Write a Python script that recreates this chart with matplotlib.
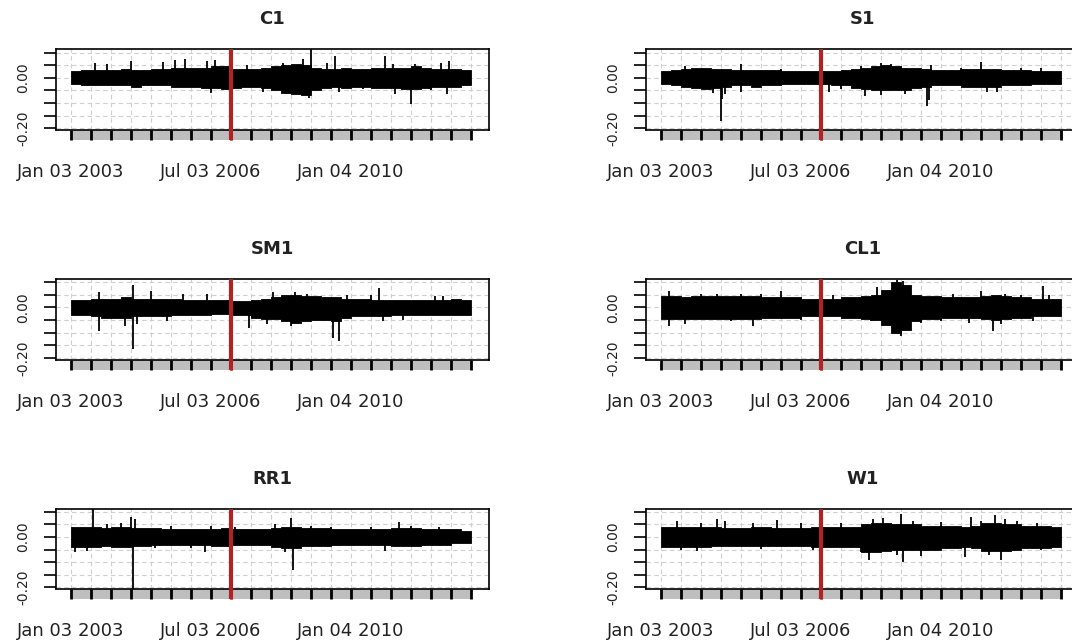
import numpy as np
import matplotlib.pyplot as plt
from matplotlib.transforms import blended_transform_factory

# quarter start dates (fractional years), 2003Q1 .. 2012Q4
quarters = np.arange(2003.0, 2013.0, 0.25)

titles = ["C1", "S1", "SM1", "CL1", "RR1", "W1"]

# bulk band of daily returns per quarter, in percent
c1_hi = [2.5, 3, 3, 3, 3, 3.5, 3, 3, 3.5, 3.5, 4, 4, 4, 4, 4.5, 4.5, 3.5, 3.5, 3.5, 4,
         4.5, 5, 5.5, 5, 4, 3.5, 3.5, 4, 3.5, 3.5, 4, 4, 4, 4, 4.5, 4, 3.5, 3.5, 3.5, 3]
c1_lo = [-2.5, -3, -3, -3, -3, -3, -3.5, -3, -3, -3, -3.5, -3.5, -3.5, -4, -4, -4.5, -4, -3.5, -3.5, -4,
         -5, -6, -6.5, -7, -5, -4, -3.5, -4, -3.5, -3.5, -4, -4, -4, -4.5, -4.5, -4, -3.5, -3.5, -3.5, -3]
c1_spk = [(2003.6, 6), (2003.9, 5.5), (2004.5, 6.5), (2005.3, 6.3), (2005.6, 7), (2005.85, 7.5),
          (2006.4, 6.5), (2006.6, 7), (2006.5, -6), (2007.4, 5), (2007.8, -5.5), (2008.3, 6),
          (2008.8, 7.5), (2009.0, 11.5), (2008.95, -8), (2009.4, 6), (2009.6, 8.5), (2009.7, -5.5),
          (2010.3, -4.5), (2010.85, 8.5), (2011.05, 5.5), (2011.1, -6.5), (2011.5, -10.3),
          (2011.6, 5.5), (2012.0, -5), (2012.25, 6), (2012.45, 6.5), (2012.4, -6.5)]

s1_hi = [2.5, 3, 3.5, 4, 4, 3.5, 3.5, 3, 3, 3, 3, 3, 2.5, 2.5, 2.5, 2.5, 2.5, 2.5, 3, 3.5,
         4, 4.5, 5, 4.5, 4, 4, 3.5, 3, 3, 3, 3.5, 3.5, 3.5, 3.5, 3, 3, 3, 2.5, 2.5, 2.5]
s1_lo = [-2.5, -3, -3.5, -4, -4.5, -4, -3.5, -3, -3, -3.5, -3, -3, -2.5, -2.5, -2.5, -2.5, -2.5, -3, -3, -4,
         -4.5, -5, -5, -5, -5, -4, -3.5, -3, -3, -3, -3.5, -3.5, -3.5, -3.5, -3, -3, -3, -2.5, -2.5, -2.5]
s1_spk = [(2003.6, 4.6), (2004.3, -6), (2004.5, -17.2), (2004.52, -8.6), (2004.6, -6.5), (2005.0, 5.5),
          (2005.0, -5.5), (2006.0, 3.5), (2007.2, -5.5), (2007.5, -4.5), (2008.0, 4.5), (2008.1, -7.3),
          (2008.5, -7), (2008.5, 5.8), (2008.75, 5.3), (2009.1, -6.5), (2009.65, -11.2), (2009.7, -9),
          (2009.75, 5), (2010.5, 4), (2011.0, 6.2), (2011.15, -5.5), (2011.4, -5.5), (2012.0, 4),
          (2012.5, 3.8)]

sm1_hi = [3, 3, 3.5, 3.5, 3.5, 4, 3.5, 3.5, 3.5, 3.5, 3.5, 3, 3, 3, 3, 3, 2.5, 2.5, 3, 3.5,
          4, 5, 5, 4.5, 4.5, 4, 4, 3.5, 3.5, 3.5, 3, 3, 3, 3, 3, 3, 3, 3, 3.5, 3]
sm1_lo = [-3, -3, -3.5, -4, -4, -4, -3.5, -3.5, -3.5, -3.5, -3, -3, -3, -3, -2.5, -2.5, -3, -3, -4, -4.5,
          -4.5, -5.5, -6, -5.5, -5, -5, -5.5, -4, -3.5, -3.5, -3.5, -3.5, -3, -3, -3, -3, -3, -3, -3, -3]
sm1_spk = [(2003.7, -9.3), (2003.7, 6.2), (2004.35, -7.3), (2004.55, 9), (2004.55, -16.5),
           (2004.65, -6.5), (2005.0, 6.5), (2005.4, -5.3), (2005.8, 5.5), (2006.4, 5.3), (2007.0, 4.5),
           (2007.45, -8), (2007.9, -6.5), (2008.05, 6), (2008.5, -7.3), (2008.6, 6.2), (2008.9, 5.5),
           (2009.55, -12), (2009.7, -13.2), (2009.9, 5), (2010.5, 5), (2010.7, 7.9), (2010.8, -5.3),
           (2011.3, -4.8), (2012.1, 4.5), (2012.3, 4.5)]

cl1_hi = [4.5, 4.5, 4, 4.5, 4.5, 4.5, 4.5, 4.5, 4.5, 4.5, 4, 4, 4, 4, 3.5, 3.5, 3.5, 3.5, 4, 4,
          4.5, 5, 7, 10, 9, 5, 4.5, 4.5, 4, 4, 4, 4, 4.5, 5, 4.5, 4, 4, 3.5, 3.5, 3.5]
cl1_lo = [-4.5, -4.5, -4.5, -4.5, -4.5, -4.5, -4.5, -4.5, -4.5, -4.5, -4, -4, -4, -4, -3.5, -3.5, -3.5, -3.5, -4, -4,
          -4.5, -5, -7, -10, -9, -5.5, -4.5, -4.5, -4, -4, -4, -4, -4.5, -5, -4.5, -4, -4, -3.5, -3.5, -3.5]
cl1_spk = [(2003.2, 6.6), (2003.2, -7.3), (2003.6, -6.6), (2004.0, 5.3), (2004.4, 5.5), (2004.75, -5.5),
           (2005.0, 5.3), (2005.3, -7.3), (2005.5, 5.5), (2006.0, 6.5), (2006.5, -5), (2007.3, 5),
           (2008.25, -5.5), (2008.4, 8.2), (2008.9, 11), (2009.0, -11.2), (2009.05, 10.5), (2009.5, -6),
           (2010.0, -5.5), (2010.3, 5.5), (2010.7, -6), (2011.0, 6.5), (2011.3, -9.3), (2011.5, -6.6),
           (2011.6, 5.5), (2012.0, 5), (2012.3, -5.5), (2012.55, 8.6), (2012.7, 5)]

rr1_hi = [4, 4, 4, 3.5, 4, 4, 3.5, 3.5, 3.5, 3, 3, 3, 3, 3, 3, 3.5, 3, 3, 3, 3,
          3.5, 4, 4, 3.5, 3.5, 3.5, 3, 3, 3, 3, 3, 3, 3.5, 3.5, 3.5, 3, 3, 3, 3, 2.5]
rr1_lo = [-4, -4, -4, -3.5, -4, -4, -3.5, -3.5, -3, -3, -3, -3, -3, -3, -3.5, -3.5, -3, -3, -3, -3,
          -4, -4.5, -4.5, -3.5, -3.5, -3.5, -3, -3, -3, -3, -3, -3, -3.5, -3.5, -3.5, -3, -3, -3, -2.5, -2.5]
rr1_spk = [(2003.1, -6), (2003.4, -5.5), (2003.55, 12), (2003.9, 5), (2004.25, 5.5), (2004.5, 8),
           (2004.55, -21), (2004.6, 7), (2005.1, -4.5), (2005.5, 4.5), (2006.0, -4.5), (2006.35, -6),
           (2006.5, 4.5), (2007.1, 4), (2008.1, 5), (2008.35, -6), (2008.5, 7.5), (2008.55, -13),
           (2009.0, 4.5), (2009.5, 4), (2010.5, 4), (2010.85, -5.5), (2011.2, 5.8), (2011.5, 4.5),
           (2012.2, 4)]

w1_hi = [4, 4, 4, 4, 4, 4, 3.5, 3.5, 3.5, 4, 4, 3.5, 3.5, 3.5, 3.5, 4, 4, 4, 4, 4,
         5, 5.5, 5.5, 5, 5, 5, 4.5, 4.5, 4.5, 4.5, 4, 4.5, 5.5, 5.5, 5, 5, 4.5, 4.5, 4.5, 4]
w1_lo = [-4, -4, -4, -4, -4, -3.5, -3.5, -3.5, -3.5, -3.5, -3.5, -3.5, -3.5, -3.5, -3.5, -4, -4, -4, -4, -4,
         -6, -6, -5.5, -5, -5, -5, -5, -5, -4.5, -4.5, -4, -4.5, -5.5, -5.5, -5.5, -5, -4.5, -4.5, -4.5, -4]
w1_spk = [(2003.4, 6.5), (2003.5, -5.3), (2003.9, -5.5), (2004.0, 5.5), (2004.4, 7.3), (2004.6, 6.5),
          (2005.3, 5.5), (2005.5, -4.8), (2005.9, 6.6), (2006.5, 5.5), (2006.8, -5), (2007.5, 5.5),
          (2008.0, -6), (2008.2, -9.3), (2008.3, 7.3), (2008.55, 7.5), (2008.9, -7), (2009.0, 9),
          (2009.05, -10), (2009.3, 6.5), (2009.5, -7.5), (2010.0, 6), (2010.6, -8), (2010.75, 8),
          (2011.0, 6.5), (2011.2, -7), (2011.35, 8.6), (2011.5, -9.3), (2011.6, 7), (2011.9, 6.5),
          (2012.4, 5.5), (2012.5, -5)]

his = [c1_hi, s1_hi, sm1_hi, cl1_hi, rr1_hi, w1_hi]
los = [c1_lo, s1_lo, sm1_lo, cl1_lo, rr1_lo, w1_lo]
spikes = [c1_spk, s1_spk, sm1_spk, cl1_spk, rr1_spk, w1_spk]

x_ticks = np.arange(2003.0, 2013.01, 0.5)
x_labels = {2003.0: "Jan 03 2003", 2006.5: "Jul 03 2006", 2010.0: "Jan 04 2010"}
split_date = 2007.0
y_ticks = [-0.20, -0.15, -0.10, -0.05, 0.00, 0.05, 0.10]

W, H = 1072, 641
fig = plt.figure(figsize=(W / 100, H / 100), dpi=100)

box_w = 433
box_h = 80.7
lefts = [56, 646]
tops = [49.3, 279.0, 508.5]

for k, name in enumerate(titles):
    row, col = divmod(k, 2)
    ax = fig.add_axes([lefts[col] / W, 1 - (tops[row] + box_h) / H, box_w / W, box_h / H])
    ax.set_xlim(2002.625, 2013.45)
    ax.set_ylim(-0.207, 0.113)

    # grid
    for xt in x_ticks:
        ax.axvline(xt, color="#cfcfcf", lw=0.8, ls=(0, (4, 3)), zorder=0)
    for yt in y_ticks:
        ax.axhline(yt, color="#cfcfcf", lw=0.8, ls=(0, (4, 3)), zorder=0)

    # series: quarterly bulk band + individual large moves
    edges = np.append(quarters, 2013.0)
    hi = np.array(his[k] + [his[k][-1]]) / 100
    lo = np.array(los[k] + [los[k][-1]]) / 100
    ax.fill_between(edges, lo, hi, step="post", color="black", lw=0.6, zorder=2)
    sx = [s[0] for s in spikes[k]]
    sy = [s[1] / 100 for s in spikes[k]]
    ax.vlines(sx, 0, sy, color="black", lw=1.3, zorder=2)

    # x axis: grey band with ticks below the box
    tr = blended_transform_factory(ax.transData, ax.transAxes)
    bar_h = 10 / box_h
    ax.add_patch(plt.Rectangle((x_ticks[0], -bar_h), x_ticks[-1] - x_ticks[0], bar_h,
                               transform=tr, facecolor="#bebebe", edgecolor="none", clip_on=False))
    ax.vlines(x_ticks, -bar_h, 0, transform=tr, color="black", lw=2, clip_on=False, zorder=3)
    for xv, lab in x_labels.items():
        ax.text(xv, -42 / box_h, lab, transform=tr, ha="center", va="center", fontsize=13,
                color="#222222")

    # red split line
    ax.plot([split_date, split_date], [-bar_h, 1], transform=tr, color="#b22222", lw=3,
            clip_on=False, zorder=4, solid_capstyle="butt")

    # y axis
    ax.set_xticks([])
    ax.set_yticks(y_ticks)
    ax.set_yticklabels([])
    ax.tick_params(axis="y", length=8.6, width=1.2, direction="out")
    for yv, lab in [(0.0, "0.00"), (-0.20, "-0.20")]:
        ax.text(-33 / box_w, yv, lab, transform=blended_transform_factory(ax.transAxes, ax.transData),
                rotation=90, ha="center", va="center", fontsize=10, color="#222222")

    for sp in ax.spines.values():
        sp.set_linewidth(1.2)

    ax.text(0.5, 1 + 30 / box_h, name, transform=ax.transAxes, ha="center", va="center",
            fontsize=13, fontweight="bold", color="#222222")

fig.savefig("out.png", dpi=100)
